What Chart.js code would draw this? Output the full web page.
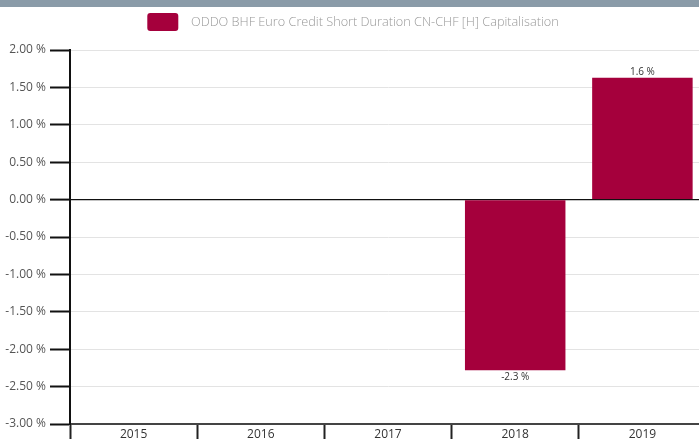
<!DOCTYPE html>
<html>
<head>
<meta charset="utf-8">
<script src="https://cdn.jsdelivr.net/npm/chart.js@4.4.1/dist/chart.umd.min.js"></script>
<style>
  html, body { margin: 0; padding: 0; background: #fff; overflow: hidden; }
  #wrap { position: relative; width: 706px; height: 439px; }
  #topbar { position: absolute; left: 0; top: 0; width: 699px; height: 7px; background: #8a9ba8; }
</style>
</head>
<body>
<div id="wrap">
  <canvas id="c" width="706" height="439"></canvas>
  <div id="topbar"></div>
</div>
<script>
const categories = ["2015", "2016", "2017", "2018", "2019"];
const seriesName = "ODDO BHF Euro Credit Short Duration CN-CHF [H] Capitalisation";
const seriesValues = [null, null, null, -2.28, 1.63];
const yMin = -3, yMax = 2, yStep = 0.5;

const barColor = "#a5003c";

const valueLabels = {
  id: "valueLabels",
  afterDatasetsDraw(chart) {
    const ctx = chart.ctx;
    const meta = chart.getDatasetMeta(0);
    ctx.save();
    ctx.font = "10px 'Open Sans', sans-serif";
    ctx.fillStyle = "#333";
    ctx.textAlign = "center";
    meta.data.forEach((el, i) => {
      const v = seriesValues[i];
      if (v === null || v === undefined) return;
      const txt = v.toFixed(1) + " %";
      if (v >= 0) {
        ctx.textBaseline = "bottom";
        ctx.fillText(txt, el.x, el.y - 1);
      } else {
        ctx.textBaseline = "top";
        ctx.fillText(txt, el.x, el.y + 2);
      }
    });
    ctx.restore();
  }
};

const legendSpacer = {
  id: "legendSpacer",
  afterInit(chart) {
    const lg = chart.legend;
    if (!lg) return;
    const orig = lg.fit;
    lg.fit = function () { orig.call(this); this.height += 9; };
  }
};

new Chart(document.getElementById("c"), {
  type: "bar",
  data: {
    labels: categories,
    datasets: [{
      label: seriesName,
      data: seriesValues,
      backgroundColor: barColor,
      borderWidth: 0,
      barPercentage: 0.79,
      categoryPercentage: 1.0
    }]
  },
  options: {
    responsive: false,
    animation: false,
    devicePixelRatio: 1,
    layout: { padding: { top: 7, right: 0, bottom: 0, left: 0 } },
    plugins: {
      legend: {
        display: true,
        position: "top",
        labels: {
          boxWidth: 31,
          boxHeight: 18,
          useBorderRadius: true,
          borderRadius: 3,
          color: "#999",
          font: { family: "'Open Sans', sans-serif", size: 12.7, weight: "300" },
          padding: 6,
          generateLabels(chart) {
            const items = Chart.defaults.plugins.legend.labels.generateLabels(chart);
            items.forEach(it => { it.text = "\u2002" + it.text; it.lineWidth = 0; });
            return items;
          }
        }
      },
      tooltip: { enabled: false }
    },
    scales: {
      x: {
        offset: true,
        border: { display: true, color: "#444", width: 2 },
        grid: {
          offset: true,
          drawOnChartArea: false,
          drawTicks: true,
          tickLength: 16,
          tickColor: "#222",
          tickWidth: 2
        },
        ticks: {
          color: "#333",
          padding: -13,
          font: { family: "'Open Sans', sans-serif", size: 12 }
        },
        afterFit(scale) { scale.height = 15; }
      },
      y: {
        min: yMin,
        max: yMax,
        border: { display: true, color: "#111", width: 2 },
        grid: {
          color: (ctx) => (ctx.tick && ctx.tick.value === 0) ? "#111" : "#e3e3e3",
          lineWidth: (ctx) => (ctx.tick && ctx.tick.value === 0) ? 1.2 : 1,
          tickColor: "#111",
          tickWidth: 2,
          tickLength: 20,
          drawTicks: true
        },
        ticks: {
          stepSize: yStep,
          color: "#555",
          padding: 4,
          font: { family: "'Open Sans', sans-serif", size: 12 },
          callback: (v) => Number(v).toFixed(2) + " %"
        },
        afterFit(scale) { scale.width = 70; }
      }
    }
  },
  plugins: [valueLabels, legendSpacer]
});
</script>
</body>
</html>
